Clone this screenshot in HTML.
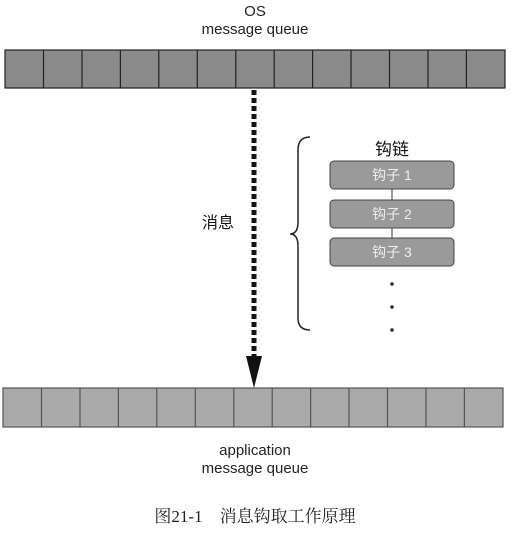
<!DOCTYPE html>
<html><head><meta charset="utf-8"><style>
body{margin:0;background:#fff;}
</style></head><body>
<svg width="511" height="535" xmlns="http://www.w3.org/2000/svg" font-family="Liberation Sans, Noto Sans CJK SC, sans-serif">
<rect width="511" height="535" fill="#fff"/>
<text x="255" y="16" font-size="15" text-anchor="middle" fill="#222">OS</text>
<text x="255" y="34" font-size="15" text-anchor="middle" fill="#222">message queue</text>
<g stroke="#222" stroke-width="1.2" fill="#8a8a8a">
<rect x="5" y="50" width="500" height="38"/>
<path d="M43.5 50V88M82 50V88M120.4 50V88M158.8 50V88M197.3 50V88M235.8 50V88M274.2 50V88M312.6 50V88M351 50V88M389.5 50V88M428 50V88M466.4 50V88"/>
</g>
<g stroke="#555" stroke-width="1.2" fill="#aaa">
<rect x="3" y="388" width="500" height="39"/>
<path d="M41.5 388V427M80 388V427M118.4 388V427M156.8 388V427M195.3 388V427M233.8 388V427M272.2 388V427M310.6 388V427M349 388V427M387.5 388V427M426 388V427M464.4 388V427"/>
</g>
<line x1="254" y1="90" x2="254" y2="358" stroke="#111" stroke-width="5" stroke-dasharray="5,3"/>
<polygon points="246,356 262,356 254,388" fill="#111"/>
<text x="218" y="228" font-size="16" text-anchor="middle" fill="#111">消息</text>
<path d="M310 137 Q298 137 298 150 V222 Q298 234 290 234 Q298 234 298 246 V318 Q298 330 310 330" fill="none" stroke="#222" stroke-width="1.5"/>
<text x="392" y="155" font-size="17" text-anchor="middle" fill="#111">钩链</text>
<line x1="392" y1="189" x2="392" y2="238" stroke="#333"/>
<g fill="#9a9a9a" stroke="#444" stroke-width="1">
<rect x="330" y="161" width="124" height="28" rx="4"/>
<rect x="330" y="200" width="124" height="28" rx="4"/>
<rect x="330" y="238" width="124" height="28" rx="4"/>
</g>
<g fill="#eee" font-size="14" text-anchor="middle">
<text x="392" y="180">钩子 1</text>
<text x="392" y="219">钩子 2</text>
<text x="392" y="257">钩子 3</text>
</g>
<circle cx="392" cy="284" r="1.7" fill="#222"/>
<circle cx="392" cy="307" r="1.7" fill="#222"/>
<circle cx="392" cy="330" r="1.7" fill="#222"/>
<text x="255" y="455" font-size="15" text-anchor="middle" fill="#222">application</text>
<text x="255" y="473" font-size="15" text-anchor="middle" fill="#222">message queue</text>
<text x="255" y="522" font-size="17" text-anchor="middle" fill="#222" font-family="Liberation Serif, Noto Serif CJK SC, serif">图21-1　消息钩取工作原理</text>
</svg>
</body></html>
